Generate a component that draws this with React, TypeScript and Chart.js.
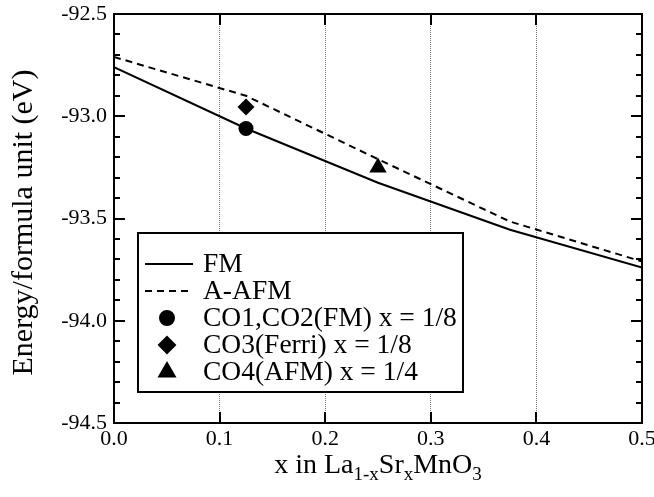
import React, { useEffect, useRef } from 'react';
import { Chart, registerables } from 'chart.js';
import { drawPoint } from 'chart.js/helpers';

Chart.register(...registerables);

// ---- data ----
const FM_X = [0, 0.125, 0.25, 0.375, 0.5];
const FM_Y = [-92.76, -93.06, -93.325, -93.555, -93.74];
const AAFM_X = [0, 0.125, 0.25, 0.375, 0.5];
const AAFM_Y = [-92.71, -92.9, -93.21, -93.515, -93.71];
const CO12_X = [0.125];
const CO12_Y = [-93.06];
const CO3_X = [0.125];
const CO3_Y = [-92.955];
const CO4_X = [0.25];
const CO4_Y = [-93.25];

const SERIES_LABELS = [
  'FM',
  'A-AFM',
  'CO1,CO2(FM) x = 1/8',
  'CO3(Ferri) x = 1/8',
  'CO4(AFM) x = 1/4',
];

const X_MIN = 0;
const X_MAX = 0.5;
const X_STEP = 0.1;
const Y_MIN = -94.5;
const Y_MAX = -92.5;
const Y_STEP = 0.5;
const Y_MINOR_STEP = 0.1;

const Y_TITLE = 'Energy/formula unit (eV)';
const X_TITLE_PARTS: [string, boolean][] = [
  ['x in La', false],
  ['1-x', true],
  ['Sr', false],
  ['x', true],
  ['MnO', false],
  ['3', true],
];

const FF = "'Liberation Serif', 'Times New Roman', serif";

const toPts = (xs: number[], ys: number[]) => xs.map((x, i) => ({ x, y: ys[i] }));

const decorPlugin = {
  id: 'decor',
  afterDatasetsDraw(chart: any) {
    const { ctx, chartArea } = chart;
    const { left, right, top, bottom } = chartArea;
    const xs = chart.scales.x;
    const ys = chart.scales.y;
    ctx.save();
    ctx.strokeStyle = '#000';
    ctx.lineWidth = 2;
    ctx.setLineDash([]);
    // ticks
    ctx.beginPath();
    const nx = Math.round((X_MAX - X_MIN) / X_STEP);
    for (let i = 1; i < nx; i++) {
      const px = Math.round(xs.getPixelForValue(X_MIN + i * X_STEP));
      ctx.moveTo(px, bottom);
      ctx.lineTo(px, bottom - 11);
      ctx.moveTo(px, top);
      ctx.lineTo(px, top + 11);
    }
    const ny = Math.round((Y_MAX - Y_MIN) / Y_MINOR_STEP);
    const per = Math.round(Y_STEP / Y_MINOR_STEP);
    for (let i = 1; i < ny; i++) {
      const py = Math.round(ys.getPixelForValue(Y_MIN + i * Y_MINOR_STEP));
      const len = i % per === 0 ? 11 : 6;
      ctx.moveTo(left, py);
      ctx.lineTo(left + len, py);
      ctx.moveTo(right, py);
      ctx.lineTo(right - len, py);
    }
    ctx.stroke();
    ctx.strokeRect(left, top, right - left, bottom - top);
    ctx.restore();
  },
  afterDraw(chart: any) {
    const { ctx, chartArea } = chart;
    ctx.save();
    // legend box
    const L = { left: 138, top: 233, right: 463, bottom: 392 };
    ctx.fillStyle = '#fff';
    ctx.fillRect(L.left, L.top, L.right - L.left, L.bottom - L.top);
    ctx.strokeStyle = '#000';
    ctx.lineWidth = 2;
    ctx.strokeRect(L.left, L.top, L.right - L.left, L.bottom - L.top);
    chart.data.datasets.forEach((ds: any, i: number) => {
      const y = 264 + i * 27;
      ctx.strokeStyle = '#000';
      ctx.fillStyle = '#000';
      if (ds.showLine) {
        ctx.lineWidth = 2;
        ctx.setLineDash(ds.borderDash || []);
        ctx.beginPath();
        ctx.moveTo(145, y);
        ctx.lineTo(193, y);
        ctx.stroke();
        ctx.setLineDash([]);
      } else {
        drawPoint(ctx, { pointStyle: ds.pointStyle, radius: ds.legendRadius, borderWidth: 1, rotation: 0 }, 167, y);
        ctx.fill();
      }
      ctx.font = `27.5px ${FF}`;
      ctx.textBaseline = 'middle';
      ctx.textAlign = 'left';
      ctx.fillText(ds.label, 203, y + 1);
    });
    // y title
    ctx.fillStyle = '#000';
    ctx.font = `30px ${FF}`;
    ctx.textAlign = 'center';
    ctx.textBaseline = 'middle';
    ctx.save();
    ctx.translate(24, (chartArea.top + chartArea.bottom) / 2 + 4);
    ctx.rotate(-Math.PI / 2);
    ctx.fillText(Y_TITLE, 0, 0);
    ctx.restore();
    // x title with subscripts
    const mainFont = `28px ${FF}`;
    const subFont = `19px ${FF}`;
    let total = 0;
    const widths = X_TITLE_PARTS.map(([t, sub]) => {
      ctx.font = sub ? subFont : mainFont;
      const w = ctx.measureText(t).width;
      total += w;
      return w;
    });
    let x = (chartArea.left + chartArea.right) / 2 - total / 2;
    const base = 473;
    ctx.textAlign = 'left';
    ctx.textBaseline = 'alphabetic';
    X_TITLE_PARTS.forEach(([t, sub], i) => {
      ctx.font = sub ? subFont : mainFont;
      ctx.fillText(t, x, sub ? base + 7 : base);
      x += widths[i];
    });
    ctx.restore();
  },
};

export default function App() {
  const ref = useRef<HTMLCanvasElement>(null);
  useEffect(() => {
    document.body.style.margin = '0';
    const chart = new Chart(ref.current as HTMLCanvasElement, {
      type: 'scatter',
      data: {
        datasets: [
          {
            label: SERIES_LABELS[0],
            data: toPts(FM_X, FM_Y),
            showLine: true,
            borderColor: '#000',
            borderWidth: 2,
            pointRadius: 0,
            tension: 0,
            order: 2,
          },
          {
            label: SERIES_LABELS[1],
            data: toPts(AAFM_X, AAFM_Y),
            showLine: true,
            borderColor: '#000',
            borderWidth: 2,
            borderDash: [7, 5],
            pointRadius: 0,
            tension: 0,
            order: 2,
          },
          {
            label: SERIES_LABELS[2],
            data: toPts(CO12_X, CO12_Y),
            pointStyle: 'circle',
            pointRadius: 7.5,
            legendRadius: 7,
            backgroundColor: '#000',
            borderColor: '#000',
            borderWidth: 0,
            order: 0,
          } as any,
          {
            label: SERIES_LABELS[3],
            data: toPts(CO3_X, CO3_Y),
            pointStyle: 'rectRot',
            pointRadius: 8.5,
            legendRadius: 8,
            backgroundColor: '#000',
            borderColor: '#000',
            borderWidth: 0,
            order: 0,
          } as any,
          {
            label: SERIES_LABELS[4],
            data: toPts(CO4_X, CO4_Y),
            pointStyle: 'triangle',
            pointRadius: 10,
            legendRadius: 9,
            backgroundColor: '#000',
            borderColor: '#000',
            borderWidth: 0,
            order: 0,
          } as any,
        ],
      },
      options: {
        responsive: false,
        animation: false,
        devicePixelRatio: 1,
        layout: { padding: { top: 14, right: 12, left: 0, bottom: 0 } },
        plugins: { legend: { display: false }, tooltip: { enabled: false } },
        scales: {
          x: {
            type: 'linear',
            min: X_MIN,
            max: X_MAX,
            ticks: {
              stepSize: X_STEP,
              autoSkip: false,
              maxRotation: 0,
              padding: 3,
              color: '#000',
              font: { family: FF, size: 22 },
              callback: (v: any) => Number(v).toFixed(1),
            },
            grid: {
              drawTicks: false,
              color: (c: any) => {
                const v = c.tick ? c.tick.value : 0;
                return v <= X_MIN + 1e-9 || v >= X_MAX - 1e-9 ? 'rgba(0,0,0,0)' : '#777';
              },
              lineWidth: 1,
            },
            border: { display: false, dash: [1, 1] },
            afterFit: (s: any) => {
              s.height = 74;
              s.paddingLeft = 0;
              s.paddingRight = 0;
            },
          },
          y: {
            type: 'linear',
            min: Y_MIN,
            max: Y_MAX,
            ticks: {
              stepSize: Y_STEP,
              padding: 7,
              color: '#000',
              font: { family: FF, size: 22 },
              callback: (v: any) => Number(v).toFixed(1),
            },
            grid: { display: false, drawTicks: false },
            border: { display: false },
            afterFit: (s: any) => {
              s.width = 114;
              s.paddingTop = 0;
              s.paddingBottom = 0;
            },
          },
        },
      } as any,
      plugins: [decorPlugin],
    });
    return () => chart.destroy();
  }, []);
  return (
    <div style={{ position: 'fixed', left: 0, top: 0, width: 654, height: 497, background: '#fff' }}>
      <canvas ref={ref} width={654} height={497} style={{ display: 'block' }} />
    </div>
  );
}
